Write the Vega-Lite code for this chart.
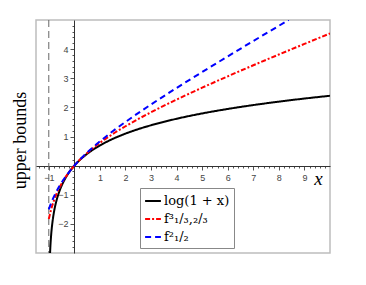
{
  "$schema": "https://vega.github.io/schema/vega-lite/v6.json",
  "width": 294,
  "height": 233,
  "autosize": "none",
  "padding": {"left": 36, "top": 20, "right": 36, "bottom": 32},
  "background": "white",
  "config": {
    "view": {"stroke": "#bdbdbd", "strokeWidth": 1.5},
    "axis": {"grid": false}
  },
  "encoding": {
    "x": {
      "field": "x", "type": "quantitative",
      "scale": {"domain": [-1.5, 10], "nice": false, "zero": false},
      "axis": {
        "orient": "bottom", "offset": -87,
        "values": [-1.4,-1.2,-1,-0.8,-0.6,-0.4,-0.2,0,0.2,0.4,0.6,0.8,1,1.2,1.4,1.6,1.8,2,2.2,2.4,2.6,2.8,3,3.2,3.4,3.6,3.8,4,4.2,4.4,4.6,4.8,5,5.2,5.4,5.6,5.8,6,6.2,6.4,6.6,6.8,7,7.2,7.4,7.6,7.8,8,8.2,8.4,8.6,8.8,9,9.2,9.4,9.6,9.8],
        "labelExpr": "(datum.value != 0 && abs(datum.value - round(datum.value)) < 0.01) ? format(round(datum.value), 'd') : ''",
        "tickSize": {"condition": {"test": "abs(datum.value - round(datum.value)) < 0.01", "value": 4}, "value": 2},
        "domainColor": "#333333", "tickColor": "#555555",
        "labelColor": "#444444", "labelFont": "Liberation Sans", "labelFontSize": 9,
        "labelPadding": 3, "labelOverlap": false, "labelFlush": false, "labelBound": false,
        "title": "x", "titleFont": "Liberation Serif", "titleFontStyle": "italic", "titleFontWeight": "normal",
        "titleFontSize": 19, "titleColor": "#000000",
        "titleX": 282, "titleY": 12, "titleAlign": "center", "titleBaseline": "middle", "titleAngle": 0
      }
    }
  },
  "layer": [
    {
      "data": {"values": [{"x": -1}]},
      "mark": {"type": "rule", "color": "#666666", "strokeDash": [7, 4], "strokeWidth": 1}
    },
    {
      "data": {"values": [
        {"s": "log(1 + x)", "x": -0.9502, "y": -3.0},
        {"s": "log(1 + x)", "x": -0.94, "y": -2.813},
        {"s": "log(1 + x)", "x": -0.92, "y": -2.526},
        {"s": "log(1 + x)", "x": -0.9, "y": -2.303},
        {"s": "log(1 + x)", "x": -0.85, "y": -1.897},
        {"s": "log(1 + x)", "x": -0.8, "y": -1.609},
        {"s": "log(1 + x)", "x": -0.7, "y": -1.204},
        {"s": "log(1 + x)", "x": -0.6, "y": -0.916},
        {"s": "log(1 + x)", "x": -0.5, "y": -0.693},
        {"s": "log(1 + x)", "x": -0.4, "y": -0.511},
        {"s": "log(1 + x)", "x": -0.3, "y": -0.357},
        {"s": "log(1 + x)", "x": -0.2, "y": -0.223},
        {"s": "log(1 + x)", "x": -0.1, "y": -0.105},
        {"s": "log(1 + x)", "x": 0, "y": 0},
        {"s": "log(1 + x)", "x": 0.25, "y": 0.223},
        {"s": "log(1 + x)", "x": 0.5, "y": 0.405},
        {"s": "log(1 + x)", "x": 0.75, "y": 0.56},
        {"s": "log(1 + x)", "x": 1, "y": 0.693},
        {"s": "log(1 + x)", "x": 1.5, "y": 0.916},
        {"s": "log(1 + x)", "x": 2, "y": 1.099},
        {"s": "log(1 + x)", "x": 2.5, "y": 1.253},
        {"s": "log(1 + x)", "x": 3, "y": 1.386},
        {"s": "log(1 + x)", "x": 4, "y": 1.609},
        {"s": "log(1 + x)", "x": 5, "y": 1.792},
        {"s": "log(1 + x)", "x": 6, "y": 1.946},
        {"s": "log(1 + x)", "x": 7, "y": 2.079},
        {"s": "log(1 + x)", "x": 8, "y": 2.197},
        {"s": "log(1 + x)", "x": 9, "y": 2.303},
        {"s": "log(1 + x)", "x": 10, "y": 2.398},
        {"s": "f³₁/₃,₂/₃", "x": -1, "y": -1.833},
        {"s": "f³₁/₃,₂/₃", "x": -0.9, "y": -1.479},
        {"s": "f³₁/₃,₂/₃", "x": -0.8, "y": -1.202},
        {"s": "f³₁/₃,₂/₃", "x": -0.6, "y": -0.783},
        {"s": "f³₁/₃,₂/₃", "x": -0.4, "y": -0.469},
        {"s": "f³₁/₃,₂/₃", "x": -0.2, "y": -0.215},
        {"s": "f³₁/₃,₂/₃", "x": 0, "y": 0},
        {"s": "f³₁/₃,₂/₃", "x": 0.5, "y": 0.435},
        {"s": "f³₁/₃,₂/₃", "x": 1, "y": 0.783},
        {"s": "f³₁/₃,₂/₃", "x": 1.5, "y": 1.083},
        {"s": "f³₁/₃,₂/₃", "x": 2, "y": 1.352},
        {"s": "f³₁/₃,₂/₃", "x": 3, "y": 1.833},
        {"s": "f³₁/₃,₂/₃", "x": 4, "y": 2.268},
        {"s": "f³₁/₃,₂/₃", "x": 5, "y": 2.676},
        {"s": "f³₁/₃,₂/₃", "x": 6, "y": 3.067},
        {"s": "f³₁/₃,₂/₃", "x": 7, "y": 3.445},
        {"s": "f³₁/₃,₂/₃", "x": 8, "y": 3.815},
        {"s": "f³₁/₃,₂/₃", "x": 9, "y": 4.179},
        {"s": "f³₁/₃,₂/₃", "x": 10, "y": 4.537},
        {"s": "f²₁/₂", "x": -1, "y": -1.5},
        {"s": "f²₁/₂", "x": -0.9, "y": -1.268},
        {"s": "f²₁/₂", "x": -0.8, "y": -1.067},
        {"s": "f²₁/₂", "x": -0.6, "y": -0.729},
        {"s": "f²₁/₂", "x": -0.4, "y": -0.45},
        {"s": "f²₁/₂", "x": -0.2, "y": -0.211},
        {"s": "f²₁/₂", "x": 0, "y": 0},
        {"s": "f²₁/₂", "x": 0.5, "y": 0.45},
        {"s": "f²₁/₂", "x": 1, "y": 0.833},
        {"s": "f²₁/₂", "x": 1.5, "y": 1.179},
        {"s": "f²₁/₂", "x": 2, "y": 1.5},
        {"s": "f²₁/₂", "x": 3, "y": 2.1},
        {"s": "f²₁/₂", "x": 4, "y": 2.667},
        {"s": "f²₁/₂", "x": 5, "y": 3.214},
        {"s": "f²₁/₂", "x": 6, "y": 3.75},
        {"s": "f²₁/₂", "x": 7, "y": 4.278},
        {"s": "f²₁/₂", "x": 8, "y": 4.8},
        {"s": "f²₁/₂", "x": 8.385, "y": 5.0}
      ]},
      "mark": {"type": "line", "strokeWidth": 2, "interpolate": "monotone", "clip": true},
      "encoding": {
        "y": {
          "field": "y", "type": "quantitative",
          "scale": {"domain": [-3, 5], "nice": false, "zero": false},
          "axis": {
            "orient": "left", "offset": -38,
            "values": [-2.8,-2.6,-2.4,-2.2,-2,-1.8,-1.6,-1.4,-1.2,-1,-0.8,-0.6,-0.4,-0.2,0,0.2,0.4,0.6,0.8,1,1.2,1.4,1.6,1.8,2,2.2,2.4,2.6,2.8,3,3.2,3.4,3.6,3.8,4,4.2,4.4,4.6,4.8],
            "labelExpr": "(datum.value != 0 && abs(datum.value - round(datum.value)) < 0.01) ? format(round(datum.value), 'd') : ''",
            "tickSize": {"condition": {"test": "abs(datum.value - round(datum.value)) < 0.01", "value": 4}, "value": 2},
            "domainColor": "#333333", "tickColor": "#555555",
            "labelColor": "#444444", "labelFont": "Liberation Sans", "labelFontSize": 9,
            "labelPadding": 2, "labelOverlap": false, "labelFlush": false, "labelBound": false,
            "title": "upper bounds", "titleFont": "Liberation Serif", "titleFontWeight": "normal",
            "titleFontSize": 18, "titleColor": "#000000",
            "titleX": -54, "titleY": 120, "titleAngle": -90, "titleAlign": "center", "titleBaseline": "middle"
          }
        },
        "color": {
          "field": "s", "type": "nominal",
          "scale": {"domain": ["log(1 + x)", "f³₁/₃,₂/₃", "f²₁/₂"], "range": ["#000000", "#ff0000", "#0000ff"]},
          "legend": {
            "orient": "none", "legendX": 104, "legendY": 168, "title": null,
            "symbolType": "stroke", "symbolSize": 250, "symbolStrokeWidth": 2,
            "labelFont": "DejaVu Serif", "labelFontSize": 13, "labelColor": "#000000",
            "strokeColor": "#888888", "fillColor": "white", "padding": 4, "rowPadding": 2,
            "labelOffset": 2
          }
        },
        "strokeDash": {
          "field": "s", "type": "nominal",
          "scale": {"domain": ["log(1 + x)", "f³₁/₃,₂/₃", "f²₁/₂"], "range": [[1, 0], [5, 2, 2, 2], [6, 4]]},
          "legend": null
        }
      }
    }
  ]
}
